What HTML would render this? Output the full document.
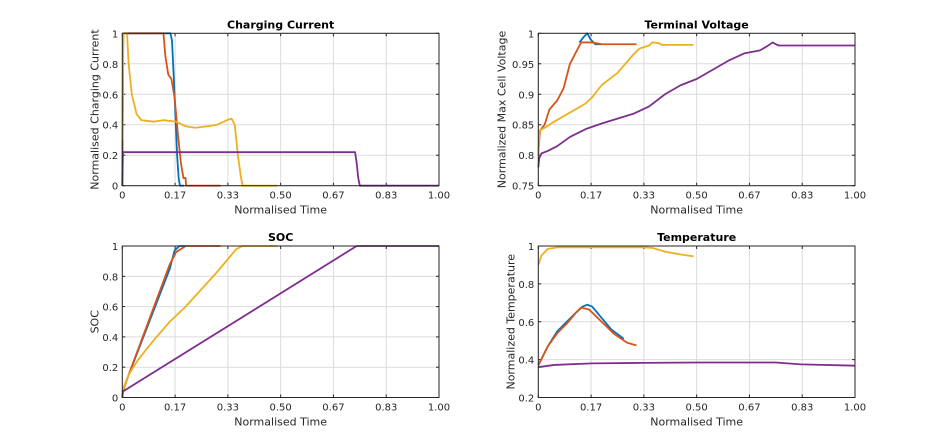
<!DOCTYPE html>
<html><head><meta charset="utf-8"><style>
body{margin:0;background:#fff;}
svg{display:block;font-family:"DejaVu Sans","Liberation Sans",sans-serif;}
</style></head><body>
<svg id="fig" width="945" height="447" viewBox="0 0 945 447"></svg>
<script>
const xTicks=[0,1/6,2/6,3/6,4/6,5/6,1];
const xTickLabels=["0","0.17","0.33","0.50","0.67","0.83","1.00"];
const colors=["#0072BD","#D95319","#EDB120","#7E2F8E"];
const seriesNames=["blue","red","yellow","purple"];

const currentBlue=[[0,0],[0.003,1],[0.152,1],[0.157,0.95],[0.165,0.6],[0.173,0.2],[0.178,0.05],[0.182,0],[0.195,0]];
const currentRed=[[0,0],[0.003,1],[0.13,1],[0.136,0.85],[0.145,0.73],[0.155,0.7],[0.165,0.58],[0.175,0.35],[0.185,0.15],[0.193,0.05],[0.2,0.05],[0.201,0],[0.31,0]];
const currentYellow=[[0,0.3],[0.003,1],[0.015,1],[0.02,0.8],[0.03,0.6],[0.045,0.47],[0.06,0.43],[0.1,0.42],[0.13,0.43],[0.17,0.42],[0.2,0.39],[0.23,0.38],[0.27,0.39],[0.3,0.4],[0.33,0.43],[0.345,0.44],[0.355,0.4],[0.365,0.2],[0.375,0.05],[0.38,0],[0.49,0]];
const currentPurple=[[0,0],[0.002,0.22],[0.735,0.22],[0.74,0.15],[0.745,0.05],[0.75,0],[1,0]];

const voltBlue=[[0.13,0.985],[0.145,0.995],[0.155,1.0],[0.165,0.99],[0.18,0.982],[0.2,0.982]];
const voltRed=[[0,0.8],[0.005,0.84],[0.02,0.85],[0.035,0.875],[0.06,0.89],[0.08,0.91],[0.1,0.95],[0.12,0.97],[0.135,0.985],[0.17,0.985],[0.2,0.982],[0.31,0.982]];
const voltYellow=[[0,0.8],[0.003,0.84],[0.02,0.845],[0.05,0.855],[0.1,0.87],[0.15,0.885],[0.17,0.895],[0.2,0.915],[0.25,0.935],[0.3,0.965],[0.32,0.975],[0.35,0.98],[0.36,0.985],[0.38,0.984],[0.39,0.981],[0.49,0.981]];
const voltPurple=[[0,0.78],[0.003,0.795],[0.01,0.803],[0.03,0.807],[0.06,0.815],[0.1,0.83],[0.15,0.843],[0.2,0.852],[0.25,0.86],[0.3,0.868],[0.35,0.88],[0.4,0.9],[0.45,0.915],[0.5,0.925],[0.55,0.94],[0.6,0.955],[0.65,0.967],[0.7,0.972],[0.72,0.978],[0.74,0.985],[0.75,0.982],[0.76,0.98],[1,0.98]];

const socBlue=[[0,0.04],[0.15,0.85],[0.165,0.97],[0.18,1],[0.2,1]];
const socRed=[[0,0],[0.002,0.04],[0.02,0.15],[0.15,0.88],[0.17,0.96],[0.2,1],[0.31,1]];
const socYellow=[[0,0.04],[0.02,0.15],[0.05,0.25],[0.1,0.38],[0.15,0.5],[0.2,0.6],[0.3,0.83],[0.34,0.93],[0.36,0.98],[0.38,1],[0.49,1]];
const socPurple=[[0,0],[0.002,0.04],[0.74,1],[1,1]];

const tempBlue=[[0,0.37],[0.03,0.47],[0.06,0.55],[0.09,0.6],[0.12,0.65],[0.14,0.68],[0.155,0.69],[0.17,0.68],[0.2,0.62],[0.23,0.56],[0.27,0.51]];
const tempRed=[[0,0.37],[0.03,0.47],[0.06,0.54],[0.09,0.59],[0.12,0.65],[0.135,0.675],[0.16,0.665],[0.2,0.6],[0.24,0.535],[0.28,0.49],[0.31,0.475]];
const tempYellow=[[0,0.9],[0.01,0.95],[0.03,0.985],[0.06,0.993],[0.33,0.993],[0.36,0.99],[0.4,0.97],[0.45,0.955],[0.49,0.945]];
const tempPurple=[[0,0.36],[0.05,0.372],[0.17,0.38],[0.33,0.383],[0.5,0.385],[0.75,0.385],[0.83,0.375],[1,0.368]];

const yTicksCurrent=[0,0.2,0.4,0.6,0.8,1];
const yLabelsCurrent=["0","0.2","0.4","0.6","0.8","1"];
const yTicksVolt=[0.75,0.8,0.85,0.9,0.95,1];
const yLabelsVolt=["0.75","0.8","0.85","0.9","0.95","1"];
const yTicksSoc=[0,0.2,0.4,0.6,0.8,1];
const yLabelsSoc=["0","0.2","0.4","0.6","0.8","1"];
const yTicksTemp=[0.2,0.4,0.6,0.8,1];
const yLabelsTemp=["0.2","0.4","0.6","0.8","1"];

const NS="http://www.w3.org/2000/svg";
const fig=document.getElementById('fig');
function mk(tag,attrs,parent){const e=document.createElementNS(NS,tag);for(const k in attrs)e.setAttribute(k,attrs[k]);(parent||fig).appendChild(e);return e;}

function panel(key,box,title,ylabel,ymin,ymax,yt,yl,series){
  const g=mk('g',{});
  
  
  const [x0,y0,x1,y1]=box;
  const sx=v=>x0+v*(x1-x0);
  const sy=v=>y1-(v-ymin)/(ymax-ymin)*(y1-y0);
  mk('rect',{x:x0,y:y0,width:x1-x0,height:y1-y0,fill:'#fff'},g);
  xTicks.forEach((t,i)=>{
    const l=mk('line',{x1:sx(t),x2:sx(t),y1:y0,y2:y1,stroke:'#dcdcdc','stroke-width':1},g);
    
    
    mk('line',{x1:sx(t),x2:sx(t),y1:y1,y2:y1-3,stroke:'#262626'},g);
    mk('line',{x1:sx(t),x2:sx(t),y1:y0,y2:y0+3,stroke:'#262626'},g);
    const tx=mk('text',{x:sx(t),y:y1+13,'text-anchor':'middle','font-size':'10',fill:'#262626'},g);
    tx.textContent=xTickLabels[i];
    
    
  });
  yt.forEach((t,i)=>{
    const l=mk('line',{x1:x0,x2:x1,y1:sy(t),y2:sy(t),stroke:'#dcdcdc','stroke-width':1},g);
    
    
    mk('line',{x1:x0,x2:x0+3,y1:sy(t),y2:sy(t),stroke:'#262626'},g);
    mk('line',{x1:x1,x2:x1-3,y1:sy(t),y2:sy(t),stroke:'#262626'},g);
    const tx=mk('text',{x:x0-4,y:sy(t)+4,'text-anchor':'end','font-size':'10',fill:'#262626'},g);
    tx.textContent=yl[i];
    
    
  });
  series.forEach((s,i)=>{
    const d=s.map((p,j)=>(j?'L':'M')+sx(p[0]).toFixed(2)+' '+sy(p[1]).toFixed(2)).join(' ');
    const p=mk('path',{d:d,fill:'none',stroke:colors[i],'stroke-width':1.8,'stroke-linejoin':'round'},g);
    
    
  });
  const fr=mk('rect',{x:x0,y:y0,width:x1-x0,height:y1-y0,fill:'none',stroke:'#262626','stroke-width':1},g);
  
  
  const tt=mk('text',{x:(x0+x1)/2,y:y0-5,'text-anchor':'middle','font-size':'11','font-weight':'bold',fill:'#000'},g);
  tt.textContent=title;
  
  
  const xl=mk('text',{x:(x0+x1)/2,y:y1+28,'text-anchor':'middle','font-size':'11',fill:'#262626'},g);
  xl.textContent='Normalised Time';
  
  
  const yx=x0-(ymin===0.75?33:24);
  const ylb=mk('text',{x:yx,y:(y0+y1)/2,'text-anchor':'middle','font-size':'11',fill:'#262626',transform:`rotate(-90 ${yx} ${(y0+y1)/2})`},g);
  ylb.textContent=ylabel;
  
  
}
panel('current',[122.3,33.3,439,185.7],'Charging Current','Normalised Charging Current',0,1,yTicksCurrent,yLabelsCurrent,[currentBlue,currentRed,currentYellow,currentPurple]);
panel('voltage',[538.3,33.3,855,185.7],'Terminal Voltage','Normalized Max Cell Voltage',0.75,1,yTicksVolt,yLabelsVolt,[voltBlue,voltRed,voltYellow,voltPurple]);
panel('soc',[122.3,246,439,397.5],'SOC','SOC',0,1,yTicksSoc,yLabelsSoc,[socBlue,socRed,socYellow,socPurple]);
panel('temperature',[538.3,246,855,397.5],'Temperature','Normalized Temperature',0.2,1,yTicksTemp,yLabelsTemp,[tempBlue,tempRed,tempYellow,tempPurple]);
</script>
</body></html>
